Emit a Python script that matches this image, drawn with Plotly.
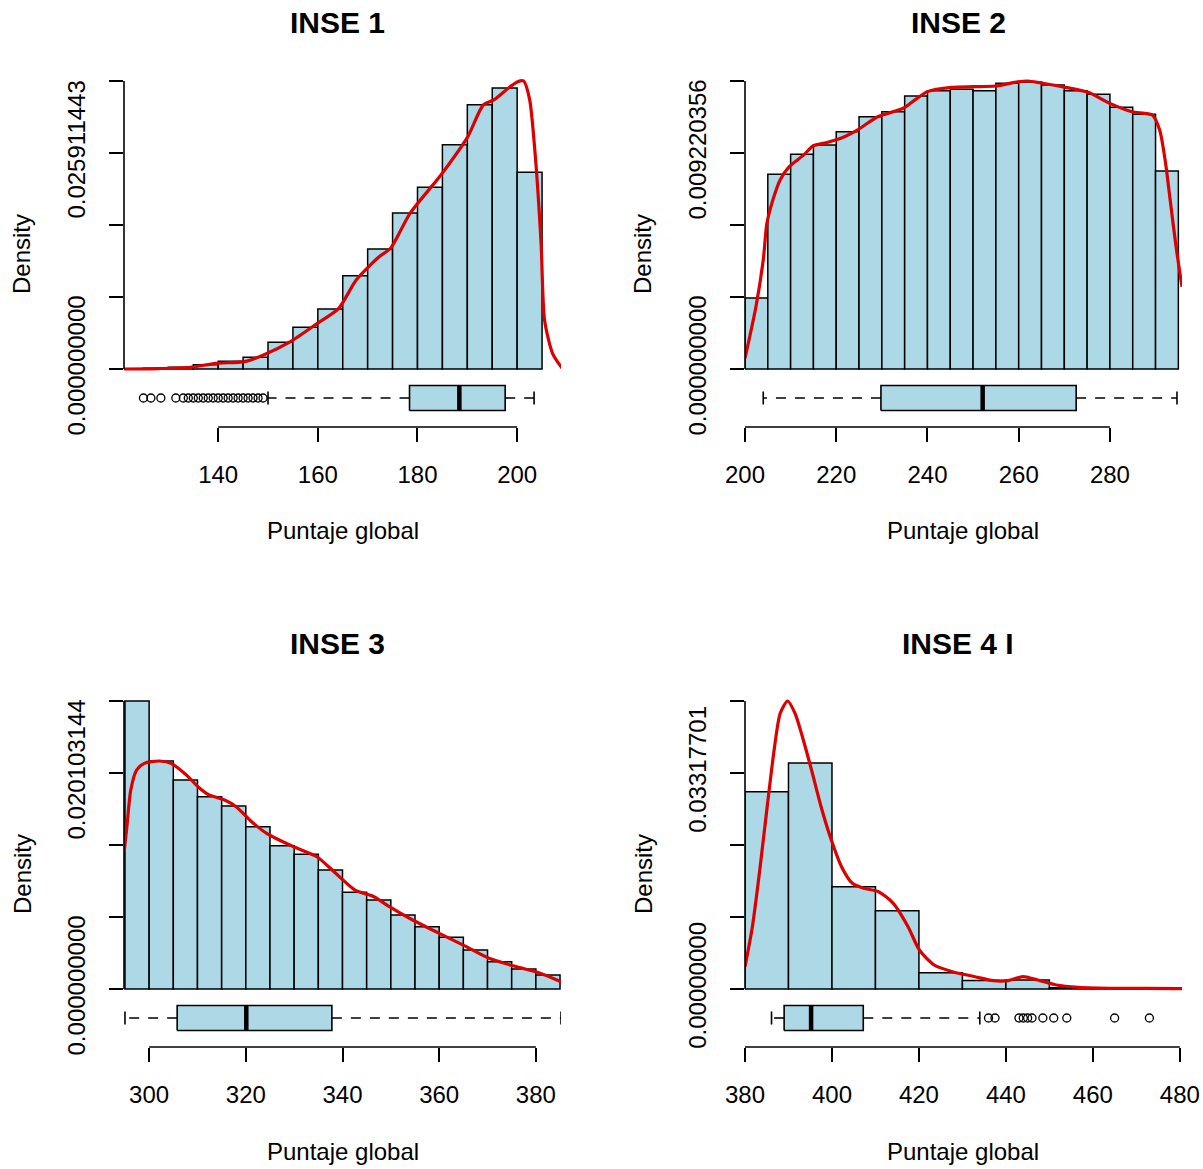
import numpy as np
import plotly.graph_objects as go

W, H = 1203, 1169

titles = ["INSE 1", "INSE 2", "INSE 3", "INSE 4 I"]
x_title = "Puntaje global"
y_title = "Density"

# ---------------- INSE 1 ----------------
inse1_breaks = [125, 130, 135, 140, 145, 150, 155, 160, 165, 170, 175, 180, 185, 190, 195, 200, 205]
inse1_density = [0.0001, 0.0002, 0.0005, 0.00092, 0.0014, 0.0032, 0.005, 0.0072, 0.0112, 0.0144,
                 0.0187, 0.0218, 0.0269, 0.0317, 0.0337, 0.0236]
inse1_kde_x = [121.1, 128.0, 134.4, 139.5, 145.3, 149.1, 154.5, 159.9, 164.2, 167.7, 172.3, 174.6,
               178.5, 184.7, 190.1, 193.2, 195.5, 198.6, 200.1, 201.3, 202.5, 203.6, 204.8, 205.5,
               207.1, 209.0]
inse1_kde_y = [0.0, 0.00005, 0.0002, 0.00068, 0.00088, 0.00168, 0.00328, 0.00548, 0.00728, 0.01068,
               0.01347, 0.01448, 0.01867, 0.02327, 0.02787, 0.03167, 0.03235, 0.03387, 0.03447,
               0.034549, 0.03235, 0.02587, 0.01508, 0.00588, 0.00188, 0.0001]
inse1_box = [150.0, 178.4, 188.4, 197.6, 203.4]
inse1_outliers = [125, 126.5, 128.5, 131.5, 133, 134, 135, 136, 137, 138, 139, 140, 141, 142, 143,
                  144, 145, 146, 147, 148, 149]
inse1_yticks = [0.0, 0.008637148, 0.017274295, 0.025911443, 0.034548591]
inse1_ylabels = ["0.000000000", "", "", "0.025911443", ""]
inse1_xticks = [140, 160, 180, 200]
inse1_xlim = [121.1, 208.8]

# ---------------- INSE 2 ----------------
inse2_breaks = [200, 205, 210, 215, 220, 225, 230, 235, 240, 245, 250, 255, 260, 265, 270, 275, 280,
                285, 290, 295]
inse2_density = [0.00303, 0.00831, 0.00917, 0.00956, 0.01013, 0.01077, 0.01098, 0.01165, 0.01188,
                 0.01194, 0.01188, 0.0122, 0.01225, 0.01212, 0.01188, 0.01173, 0.01117, 0.01087,
                 0.00845]
inse2_kde_x = [200.0, 202.4, 204.0, 204.8, 206.1, 207.7, 209.7, 212.9, 214.9, 217.8, 221.0, 224.6,
               229.1, 234.7, 237.2, 240.0, 245.3, 250.1, 254.9, 259.8, 262.0, 264.6, 270.3, 275.2,
               280.0, 284.8, 289.3, 290.9, 292.1, 293.3, 294.5, 295.8]
inse2_kde_y = [0.00046, 0.00266, 0.00465, 0.00622, 0.00721, 0.00807, 0.00864, 0.00914, 0.00952,
               0.00966, 0.00985, 0.0102, 0.01077, 0.01113, 0.01148, 0.01184, 0.01202, 0.01205,
               0.01208, 0.01226, 0.012294, 0.01222, 0.01202, 0.01181, 0.01134, 0.01098, 0.01084,
               0.0102, 0.00892, 0.00707, 0.00522, 0.00351]
inse2_box = [204.0, 229.8, 252.1, 272.6, 294.7]
inse2_outliers = []
inse2_yticks = [0.0, 0.003073452, 0.006146904, 0.009220356, 0.012293808]
inse2_ylabels = ["0.000000000", "", "", "0.009220356", ""]
inse2_xticks = [200, 220, 240, 260, 280]
inse2_xlim = [200.0, 295.8]

# ---------------- INSE 3 ----------------
inse3_breaks = [295, 300, 305, 310, 315, 320, 325, 330, 335, 340, 345, 350, 355, 360, 365, 370, 375,
                380, 385]
inse3_density = [0.026804, 0.02122, 0.01945, 0.0179, 0.01703, 0.01511, 0.01334, 0.01254, 0.01108,
                 0.009, 0.00828, 0.00689, 0.0058, 0.00481, 0.00363, 0.00254, 0.00186, 0.0013]
inse3_kde_x = [294.8, 295.4, 296.2, 297.4, 299.0, 302.1, 304.5, 307.7, 310.1, 312.4, 315.6, 318.0,
               321.2, 324.3, 329.9, 334.7, 338.6, 342.6, 346.5, 349.7, 354.5, 360.0, 365.6, 370.3,
               375.9, 380.6, 385.2]
inse3_kde_y = [0.01263, 0.01511, 0.01852, 0.02038, 0.021, 0.02122, 0.021, 0.01992, 0.01883, 0.01806,
               0.01759, 0.01697, 0.01557, 0.01449, 0.01324, 0.01231, 0.01077, 0.00921, 0.00859,
               0.00766, 0.00642, 0.00518, 0.00394, 0.00286, 0.00208, 0.00152, 0.00068]
inse3_box = [295.0, 305.8, 320.1, 337.8, 385.2]
inse3_outliers = []
inse3_yticks = [0.0, 0.006701048, 0.013402096, 0.020103144, 0.026804192]
inse3_ylabels = ["0.000000000", "", "", "0.020103144", ""]
inse3_xticks = [300, 320, 340, 360, 380]
inse3_xlim = [294.8, 385.2]

# ---------------- INSE 4 I ----------------
inse4_breaks = [380, 390, 400, 410, 420, 430, 440, 450, 460, 470, 480]
inse4_density = [0.0303, 0.0347, 0.0157, 0.012, 0.0025, 0.0013, 0.0014, 0.0002, 0.0001, 0.0001]
inse4_kde_x = [380.0, 381.7, 383.4, 385.1, 386.8, 388.1, 389.8, 391.5, 393.2, 395.3, 397.5, 399.6,
               402.2, 404.7, 407.3, 410.7, 414.1, 417.5, 420.1, 423.5, 427.7, 432.9, 437.1, 440.5,
               443.9, 447.3, 451.6, 456.7, 465.3, 472.1, 480.5]
inse4_kde_y = [0.00343, 0.00957, 0.01828, 0.028, 0.03722, 0.04235, 0.044236, 0.04235, 0.03875,
               0.03364, 0.028, 0.02339, 0.01879, 0.01623, 0.01547, 0.01494, 0.01316, 0.00957,
               0.00599, 0.00369, 0.00266, 0.00189, 0.00128, 0.00128, 0.00189, 0.00138, 0.00061,
               0.00026, 0.0001, 0.0001, 0.00005]
inse4_box = [386.1, 389.0, 395.2, 407.2, 434.0]
inse4_outliers = [436, 437.5, 443, 444, 445, 446, 448.5, 451, 454, 465, 473]
inse4_yticks = [0.0, 0.011059003, 0.022118007, 0.03317701, 0.044236013]
inse4_ylabels = ["0.00000000", "", "", "0.03317701", ""]
inse4_xticks = [380, 400, 420, 440, 460, 480]
inse4_xlim = [380.0, 480.5]

panels = [
    dict(breaks=inse1_breaks, dens=inse1_density, kx=inse1_kde_x, ky=inse1_kde_y, box=inse1_box,
         out=inse1_outliers, yt=inse1_yticks, yl=inse1_ylabels, xt=inse1_xticks, xlim=inse1_xlim),
    dict(breaks=inse2_breaks, dens=inse2_density, kx=inse2_kde_x, ky=inse2_kde_y, box=inse2_box,
         out=inse2_outliers, yt=inse2_yticks, yl=inse2_ylabels, xt=inse2_xticks, xlim=inse2_xlim),
    dict(breaks=inse3_breaks, dens=inse3_density, kx=inse3_kde_x, ky=inse3_kde_y, box=inse3_box,
         out=inse3_outliers, yt=inse3_yticks, yl=inse3_ylabels, xt=inse3_xticks, xlim=inse3_xlim),
    dict(breaks=inse4_breaks, dens=inse4_density, kx=inse4_kde_x, ky=inse4_kde_y, box=inse4_box,
         out=inse4_outliers, yt=inse4_yticks, yl=inse4_ylabels, xt=inse4_xticks, xlim=inse4_xlim),
]

# page geometry (pixels from top-left)
COL_LEFT = [124, 745]
COL_RIGHT = [561, 1182]
ROW_SHIFT = [0, 620]
BASE = 369        # density 0
TOP = 81          # highest y tick
HIST_TOP = 70     # top of the plotting area
HIST_BOT = 376
XAXIS = 427       # x axis line
BOX_C = 398       # centre of the box plot strip
BOX_TOP = 378
BOX_HALF = 12.5
STAPLE_HALF = 6.5

LIGHTBLUE = "#ADD8E6"
RED = "#dd0000"
FONT = "Liberation Sans, Arial, sans-serif"


def fy(px):
    return 1 - px / H


def fx(px):
    return px / W


fig = go.Figure()
layout = dict(width=W, height=H, margin=dict(l=0, r=0, t=0, b=0, autoexpand=False),
              paper_bgcolor="white", plot_bgcolor="white", showlegend=False,
              font=dict(family=FONT, size=24, color="black"))
shapes, annotations = [], []

for i, p in enumerate(panels):
    r, c = divmod(i, 2)
    sfx = "" if i == 0 else str(i + 1)
    xa, ya, yb = f"x{sfx}", f"y{sfx}", f"y{i + 5}"
    dy = ROW_SHIFT[r]
    L, R = COL_LEFT[c], COL_RIGHT[c]
    ymax = p["yt"][-1]
    span = BASE - TOP

    # histogram
    br = np.array(p["breaks"], dtype=float)
    fig.add_trace(go.Bar(x=(br[:-1] + br[1:]) / 2, y=p["dens"], width=np.diff(br),
                         marker=dict(color=LIGHTBLUE, line=dict(color="black", width=1.5)),
                         xaxis=xa, yaxis=ya, hoverinfo="skip"))
    # kernel density
    fig.add_trace(go.Scatter(x=p["kx"], y=p["ky"], mode="lines",
                             line=dict(color=RED, width=3.2, shape="spline", smoothing=0.7),
                             xaxis=xa, yaxis=ya, hoverinfo="skip"))

    # horizontal box plot
    lo, q1, med, q3, hi = p["box"]
    fig.add_trace(go.Scatter(x=[q1, lo, None, q3, hi], y=[0, 0, None, 0, 0], mode="lines",
                             line=dict(color="black", width=1.6, dash="10px,9px"),
                             xaxis=xa, yaxis=yb, hoverinfo="skip"))
    fig.add_trace(go.Scatter(x=[lo, lo, None, hi, hi],
                             y=[-STAPLE_HALF, STAPLE_HALF, None, -STAPLE_HALF, STAPLE_HALF],
                             mode="lines", line=dict(color="black", width=1.6),
                             xaxis=xa, yaxis=yb, hoverinfo="skip"))
    fig.add_trace(go.Scatter(x=[q1, q3, q3, q1, q1],
                             y=[-BOX_HALF, -BOX_HALF, BOX_HALF, BOX_HALF, -BOX_HALF],
                             mode="lines", fill="toself", fillcolor=LIGHTBLUE,
                             line=dict(color="black", width=1.6),
                             xaxis=xa, yaxis=yb, hoverinfo="skip"))
    fig.add_trace(go.Scatter(x=[med, med], y=[-BOX_HALF, BOX_HALF], mode="lines",
                             line=dict(color="black", width=4.5),
                             xaxis=xa, yaxis=yb, hoverinfo="skip"))
    if p["out"]:
        fig.add_trace(go.Scatter(x=p["out"], y=[0] * len(p["out"]), mode="markers",
                                 marker=dict(symbol="circle-open", size=8, color="black",
                                             line=dict(width=1.3)),
                                 cliponaxis=False, xaxis=xa, yaxis=yb, hoverinfo="skip"))

    layout[f"xaxis{sfx}"] = dict(
        domain=[fx(L), fx(R)], range=p["xlim"], anchor=yb, automargin=False,
        tickvals=p["xt"], ticktext=[str(v) for v in p["xt"]],
        ticks="outside", ticklen=14, tickwidth=1.6, tickcolor="black",
        showline=False, showgrid=False, zeroline=False,
        tickfont=dict(family=FONT, size=24, color="black"), ticklabelstandoff=12)
    layout[f"yaxis{sfx}"] = dict(
        domain=[fy(HIST_BOT + dy), fy(HIST_TOP + dy)], automargin=False,
        range=[ymax * (BASE - HIST_BOT) / span, ymax * (BASE - HIST_TOP) / span],
        anchor=xa, tickvals=p["yt"], ticktext=p["yl"], tickangle=-90,
        ticks="outside", ticklen=14, tickwidth=1.6, tickcolor="black",
        showline=False, showgrid=False, zeroline=False,
        tickfont=dict(family=FONT, size=24, color="black"), ticklabelstandoff=14)
    layout[f"yaxis{i + 5}"] = dict(
        domain=[fy(XAXIS + dy), fy(BOX_TOP + dy)], automargin=False,
        range=[-(XAXIS - BOX_C), BOX_C - BOX_TOP], anchor=xa, visible=False)

    # axis lines spanning only the tick range
    shapes.append(dict(type="line", xref=f"{xa} domain", x0=0, x1=0, yref=ya,
                       y0=p["yt"][0], y1=p["yt"][-1], line=dict(color="black", width=1.6)))
    shapes.append(dict(type="line", xref=xa, x0=p["xt"][0], x1=p["xt"][-1],
                       yref=f"{yb} domain", y0=0, y1=0, line=dict(color="black", width=1.6)))

    cx = fx((L + R) / 2)
    annotations.append(dict(text=titles[i], x=cx - fx(5), y=fy(23 + dy), xref="paper",
                            yref="paper", showarrow=False, xanchor="center", yanchor="middle",
                            font=dict(family=FONT, size=30, color="black", weight="bold")))
    annotations.append(dict(text=x_title, x=cx, y=fy(531 + dy), xref="paper", yref="paper",
                            showarrow=False, xanchor="center", yanchor="middle",
                            font=dict(family=FONT, size=24, color="black")))
    annotations.append(dict(text=y_title, x=fx(22 + c * 621), y=fy(254 + dy), xref="paper",
                            yref="paper", showarrow=False, textangle=-90,
                            xanchor="center", yanchor="middle",
                            font=dict(family=FONT, size=24, color="black")))

layout["shapes"] = shapes
layout["annotations"] = annotations
fig.update_layout(**layout)
fig.write_html("out.html")
